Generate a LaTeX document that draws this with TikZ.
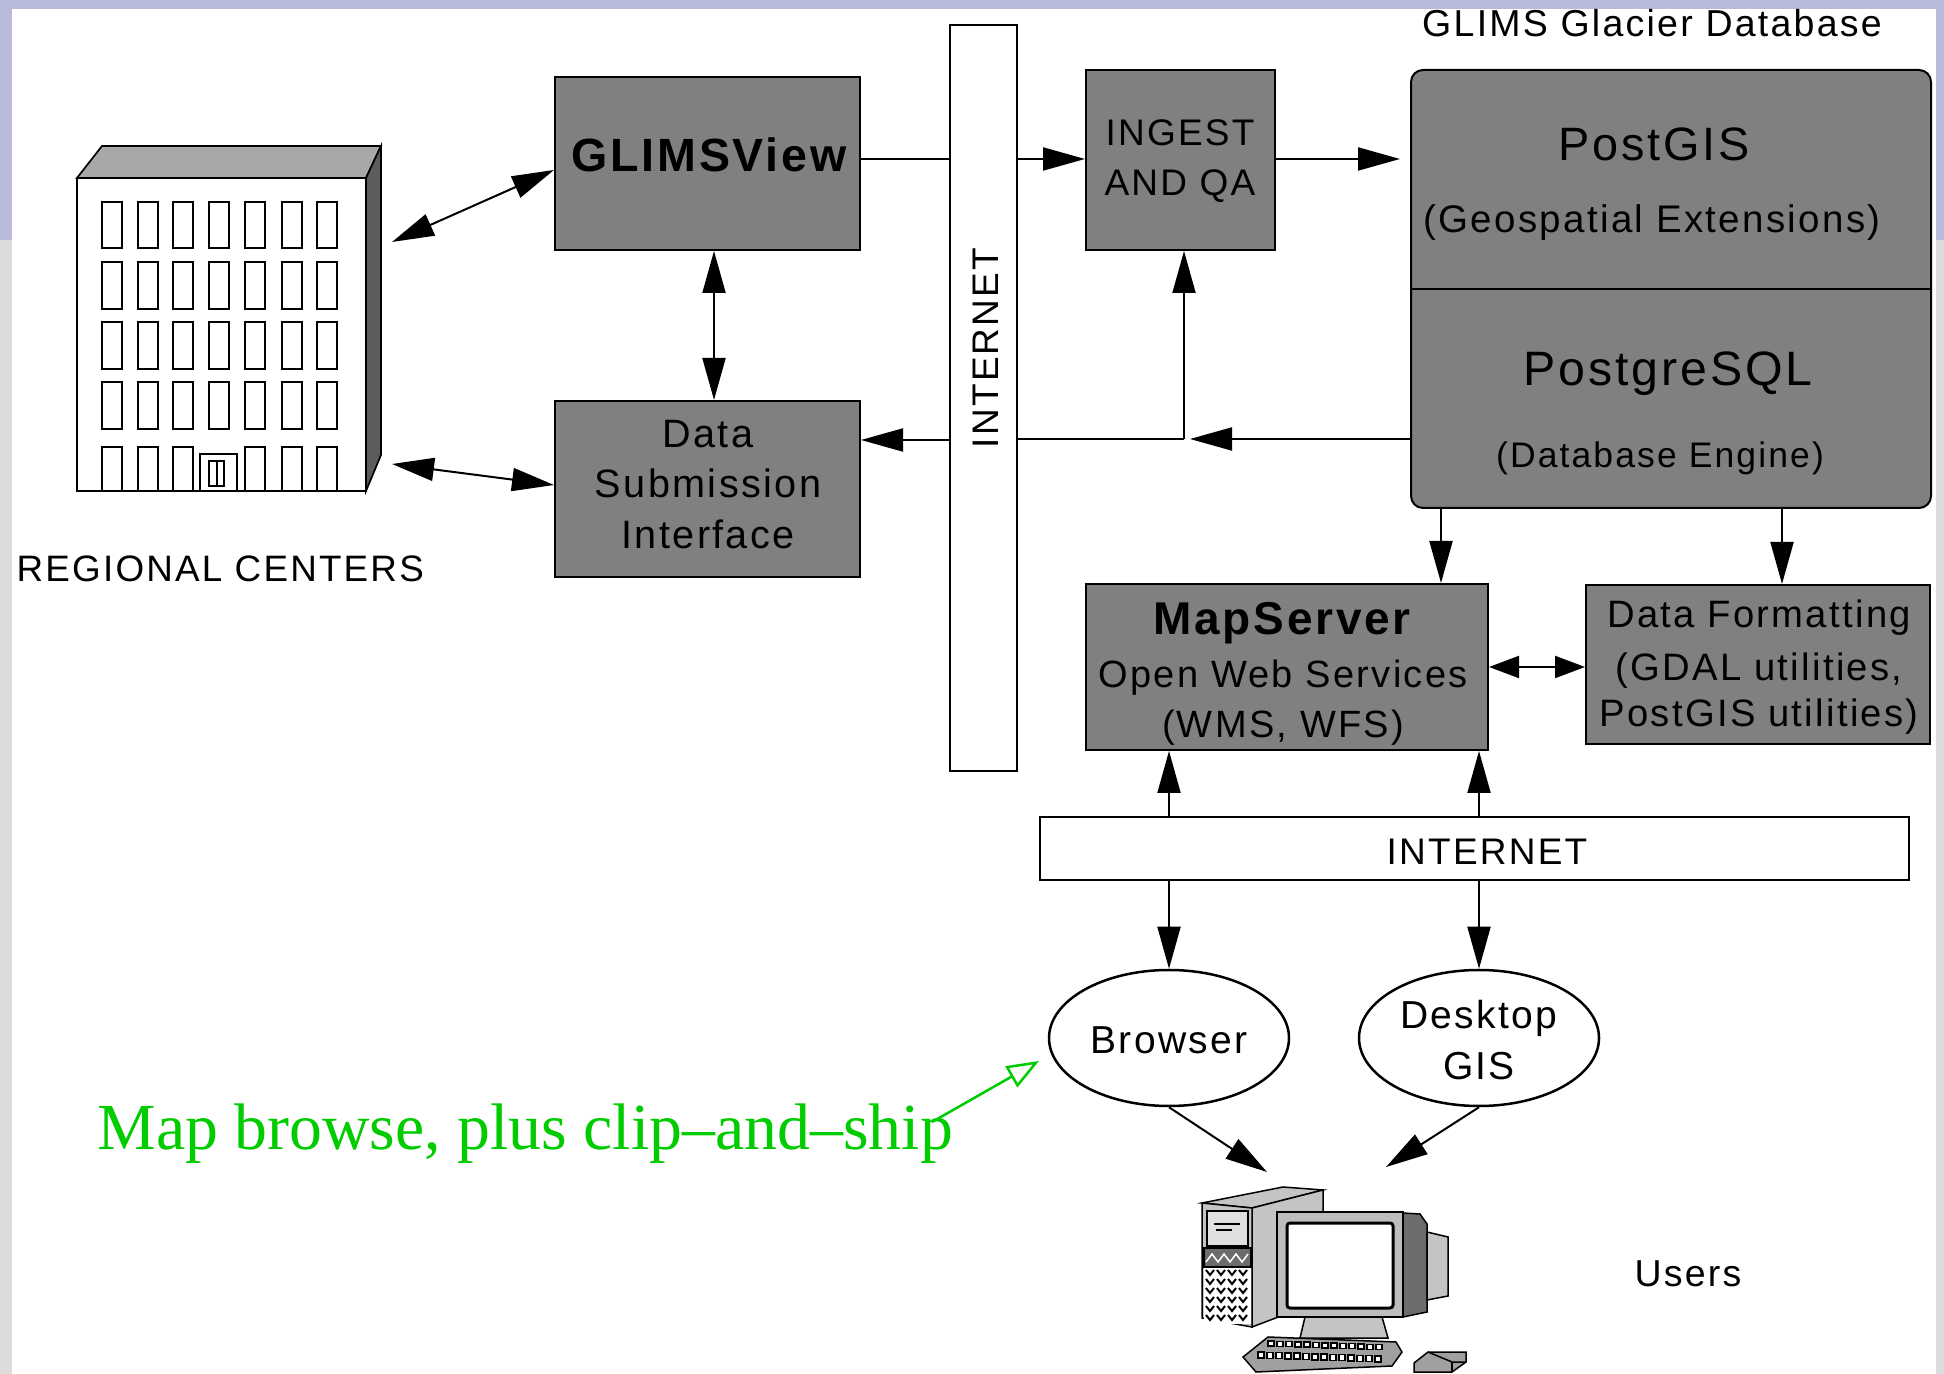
\documentclass[tikz,border=0pt]{standalone}
\usepackage{fontspec}
\newfontfamily\lab{Liberation Sans}[LetterSpace=6]
\newfontfamily\ann{Liberation Serif}
\usetikzlibrary{arrows.meta,shapes.geometric}
\definecolor{boxgray}{RGB}{128,128,128}
\definecolor{lav}{RGB}{184,188,218}
\definecolor{rim}{RGB}{220,220,220}
\definecolor{roofgray}{RGB}{168,168,168}
\definecolor{wallgray}{RGB}{92,92,92}
\definecolor{notegreen}{RGB}{0,204,0}
\definecolor{pclight}{RGB}{196,196,196}
\definecolor{pcmid}{RGB}{160,160,160}
\definecolor{pcdark}{RGB}{108,108,108}
\newcommand\fsz[1]{\fontsize{#1}{#1}\selectfont}

\begin{document}
\begin{tikzpicture}[x=0.1mm,y=-0.1mm,
  box/.style={draw=black, fill=boxgray, line width=0.2mm, inner sep=0, rectangle},
  bar/.style={draw=black, fill=white, line width=0.2mm, inner sep=0, rectangle},
  oval/.style={draw=black, fill=white, line width=0.25mm, ellipse, inner sep=0},
  txt/.style={inner sep=0, anchor=base, font=\lab},
  link/.style={line width=0.2mm, draw=black},
  >={Triangle[length=4.2mm,width=2.3mm]},
  smallheads/.style={{Triangle[length=3mm,width=2.2mm]}-{Triangle[length=3mm,width=2.2mm]}},
  win/.style={draw=black, line width=0.17mm},
  pc/.style={draw=black, line width=0.15mm}]

% page and frame
\useasboundingbox (0,0) rectangle (1944,1374);
\fill[white] (0,0) rectangle (1944,1374);
\fill[lav] (0,0) rectangle (1944,9);
\fill[lav] (0,0) rectangle (12,240);
\fill[rim] (0,240) rectangle (12,1374);
\fill[lav] (1936,0) rectangle (1944,240);
\fill[rim] (1936,240) rectangle (1944,1374);

% ---------- regional centre building ----------
\filldraw[fill=roofgray, win] (77,178) -- (102,146) -- (381,146) -- (366,178) -- cycle;
\filldraw[fill=wallgray, win] (366,178) -- (381,146) -- (381,455) -- (366,491) -- cycle;
\filldraw[fill=white, win] (77,178) rectangle (366,491);
\foreach \wx in {101.7,137.7,173.3,209.3,245.3,281.7,317.3}
  \foreach \wy in {201.7,262.3,322.3,382.3}
    \draw[win] (\wx,\wy) rectangle ++(20,46.5);
\foreach \wx in {101.7,137.7,173.3,245.3,281.7,317.3}
  \draw[win] (\wx,491) -- (\wx,446.7) -- ++(20,0) -- (\wx+20,491);
\draw[win] (200,491) -- (200,454) -- (237.3,454) -- (237.3,491);
\draw[win] (209.3,461) rectangle (224,486);
\draw[win] (216.7,461) -- (216.7,486);
\node[txt, anchor=base west, font=\lab\fsz{10.47pt}] (regional) at (16,582) {REGIONAL CENTERS};
\coordinate (bldgtop) at (392,242);
\coordinate (bldgbot) at (392,464);

% ---------- boxes ----------
\node[box, minimum width=30.5mm, minimum height=17.3mm] (glimsview) at (707.5,163.5) {};
\node[box, minimum width=30.5mm, minimum height=17.6mm] (dsi) at (707.5,489) {};
\node[bar, minimum width=6.7mm, minimum height=74.6mm] (inetv) at (983.5,398) {};
\node[box, minimum width=18.9mm, minimum height=18mm] (ingest) at (1180.5,160) {};
\node[box, rounded corners=1.2mm, minimum width=52mm, minimum height=43.8mm] (db) at (1671,289) {};
\draw[line width=0.2mm] (db.west) -- (db.east);
\node[box, minimum width=40.2mm, minimum height=16.6mm] (mapserver) at (1287,667) {};
\node[box, minimum width=34.4mm, minimum height=15.9mm] (fmt) at (1758,664.5) {};
\node[bar, minimum width=86.9mm, minimum height=6.3mm] (ineth) at (1474.5,848.5) {};
\node[oval, minimum width=24mm, minimum height=13.6mm] (browser) at (1169,1038) {};
\node[oval, minimum width=24mm, minimum height=13.6mm] (desktop) at (1479,1038) {};

% ---------- texts ----------
\node[txt, font=\lab\fsz{10.67pt}] (title) at (1652,37) {GLIMS Glacier Database};
\node[txt, font=\lab\bfseries\fsz{13.26pt}] (tglims) at (709,172) {GLIMSView};
\node[txt, font=\lab\fsz{11.27pt}] (tdsi1) at (708,448) {Data};
\node[txt, font=\lab\fsz{11.27pt}] (tdsi2) at (708,498) {Submission};
\node[txt, font=\lab\fsz{11.27pt}] (tdsi3) at (708,549) {Interface};
\node[txt, anchor=center, rotate=90, font=\lab\fsz{10.53pt}] (tinetv) at (986,348) {INTERNET};
\node[txt, font=\lab\fsz{10.53pt}] (ting1) at (1180,146) {INGEST};
\node[txt, font=\lab\fsz{10.53pt}] (ting2) at (1180,196) {AND QA};
\node[txt, font=\lab\fsz{13.32pt}] (tpostgis) at (1654,161) {PostGIS};
\node[txt, font=\lab\fsz{10.95pt}] (tgeo) at (1652,233) {(Geospatial Extensions)};
\node[txt, font=\lab\fsz{13.74pt}] (tpgsql) at (1668,386) {PostgreSQL};
\node[txt, font=\lab\fsz{10.1pt}] (tengine) at (1660,468) {(Database Engine)};
\node[txt, font=\lab\bfseries\fsz{13.09pt}] (tms1) at (1282,635) {MapServer};
\node[txt, font=\lab\fsz{10.81pt}] (tms2) at (1283,688) {Open Web Services};
\node[txt, font=\lab\fsz{10.81pt}] (tms3) at (1283,738) {(WMS, WFS)};
\node[txt, font=\lab\fsz{10.87pt}] (tfmt1) at (1759,628) {Data Formatting};
\node[txt, font=\lab\fsz{10.87pt}] (tfmt2) at (1759,681) {(GDAL utilities,};
\node[txt, font=\lab\fsz{10.87pt}] (tfmt3) at (1759,727) {PostGIS utilities)};
\node[txt, font=\lab\fsz{10.53pt}] (tineth) at (1487,865) {INTERNET};
\node[txt, font=\lab\fsz{11.1pt}] (tbrowser) at (1169,1054) {Browser};
\node[txt, font=\lab\fsz{11.1pt}] (tdesk1) at (1479,1029) {Desktop};
\node[txt, font=\lab\fsz{11.1pt}] (tdesk2) at (1479,1079) {GIS};
\node[txt, font=\lab\fsz{10.67pt}] (tusers) at (1688,1286) {Users};
\node[inner sep=0, anchor=base west, text=notegreen, font=\ann\fsz{18.72pt}] (note) at (97,1150) {Map browse, plus clip–and–ship};

% ---------- connectors ----------
\draw[link,<->] (bldgtop) -- (glimsview.west |- 0,170);
\draw[link,<->] (bldgbot) -- (dsi.west |- 0,485);
\draw[link,<->] (glimsview.south -| 714,0) -- (dsi.north -| 714,0);
\draw[link] (glimsview.east |- 0,159) -- (inetv.west |- 0,159);
\draw[link,->] (inetv.east |- 0,159) -- (ingest.west |- 0,159);
\draw[link,->,shorten >=1mm] (ingest.east |- 0,159) -- (db.west |- 0,159);
\coordinate (jn) at (1184,439);
\draw[link,->] (db.west |- 0,439) -- ([xshift=0.6mm]jn);
\draw[link] (jn) -- (inetv.east |- jn);
\draw[link,->] (jn) -- (ingest.south -| jn);
\draw[link,->] (inetv.west |- 0,440) -- (dsi.east |- 0,440);
\draw[link,->] (db.south -| 1441,0) -- (mapserver.north -| 1441,0);
\draw[link,->] (db.south -| 1782,0) -- (fmt.north -| 1782,0);
\draw[link,smallheads] (mapserver.east |- 0,667) -- (fmt.west |- 0,667);
\draw[link,->] (ineth.north -| browser.north) -- (mapserver.south -| browser.north);
\draw[link,->] (ineth.north -| desktop.north) -- (mapserver.south -| desktop.north);
\draw[link,->] (ineth.south -| browser.north) -- (browser.north);
\draw[link,->] (ineth.south -| desktop.north) -- (desktop.north);
\coordinate (pcleft) at (1267,1172);
\coordinate (pcright) at (1386,1167);
\draw[link,->] (browser.south) -- (pcleft);
\draw[link,->] (desktop.south) -- (pcright);
\coordinate (notetail) at (932,1122);
\coordinate (notehead) at (1039,1061);
\draw[notegreen, line width=0.25mm, -{Triangle[open,length=3.2mm,width=2.4mm]}] (notetail) -- (notehead);

% ---------- user workstation ----------
% tower
\filldraw[fill=pclight, pc] (1202,1203) -- (1283,1187) -- (1323,1190) -- (1252,1208) -- cycle;
\filldraw[fill=pclight, pc] (1252,1208) -- (1323,1190) -- (1323,1300) -- (1252,1327) -- cycle;
\filldraw[fill=pclight, pc] (1202,1203) -- (1252,1208) -- (1252,1327) -- (1202,1318) -- cycle;
\filldraw[fill=white!88!black, pc] (1207,1211) rectangle (1248,1246);
\draw[pc] (1214,1224) -- (1240,1224);
\draw[pc] (1216,1230) -- (1232,1230);
\filldraw[fill=pcdark, pc] (1204,1248) rectangle (1251,1267);
\draw[white, line width=0.15mm] (1206,1262) -- (1212,1254) -- (1218,1262) -- (1224,1254) -- (1230,1262) -- (1236,1254) -- (1242,1262) -- (1248,1254);
\fill[white] (1204,1268) rectangle (1251,1324);
\foreach \r in {0,...,5}
  \foreach \c in {0,...,3}
    \draw[pc, line width=0.2mm] (1206+\c*11,1270+\r*9) -- (1210+\c*11,1275+\r*9) -- (1214+\c*11,1270+\r*9);
% monitor
\filldraw[fill=pcdark, pc] (1403,1213) -- (1420,1214) -- (1427,1224) -- (1427,1312) -- (1403,1317) -- cycle;
\filldraw[fill=pclight, pc] (1427,1232) -- (1448,1237) -- (1448,1296) -- (1427,1300) -- cycle;
\filldraw[fill=pcmid!70!white, pc] (1277,1212) rectangle (1403,1317);
\filldraw[fill=white, draw=black, line width=0.3mm, rounded corners=0.3mm] (1287,1223) rectangle (1393,1308);
\filldraw[fill=pclight, pc] (1305,1317) -- (1382,1317) -- (1388,1338) -- (1300,1338) -- cycle;
% keyboard
\filldraw[fill=pcmid, pc] (1243,1357) -- (1268,1337) -- (1396,1342) -- (1402,1352) -- (1392,1366) -- (1256,1372) -- cycle;
\foreach \k in {0,...,12}
  \filldraw[fill=white, pc] (1268+\k*9,1341+\k*0.3) rectangle ++(6,5);
\foreach \k in {0,...,13}
  \filldraw[fill=white, pc] (1258+\k*9,1352+\k*0.3) rectangle ++(6,6);
% mouse
\filldraw[fill=pcmid, pc] (1414,1363) -- (1428,1352) -- (1466,1352) -- (1466,1362) -- (1452,1372) -- (1414,1372) -- cycle;
\draw[pc] (1428,1352) -- (1452,1362) -- (1466,1362);
\draw[pc] (1452,1362) -- (1452,1372);
\end{tikzpicture}
\end{document}
